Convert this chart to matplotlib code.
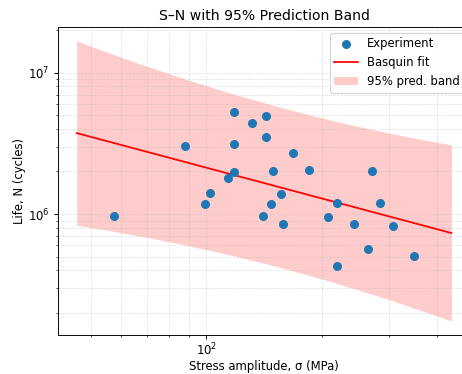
import numpy as np
import matplotlib
matplotlib.use("Agg")
from matplotlib import pyplot as plt

# experiment points
stress = [118, 143, 132, 143, 88, 118, 168, 118, 114, 149, 186, 271,
          57.4, 99, 102, 141, 148, 157, 158.5, 208, 219, 219, 243, 264, 284, 307, 349]
life = [5.29e6, 4.92e6, 4.40e6, 3.53e6, 3.01e6, 3.11e6, 2.70e6, 1.97e6, 1.79e6,
        2.00e6, 2.05e6, 2.01e6, 9.68e5, 1.17e6, 1.40e6, 9.68e5, 1.18e6, 1.38e6,
        8.46e5, 9.53e5, 1.20e6, 4.30e5, 8.54e5, 5.70e5, 1.20e6, 8.23e5, 5.04e5]

T_975 = 2.0595  # t quantile, 25 dof


def basquin_band(s, n):
    x = np.log10(s)
    y = np.log10(n)
    b, a = np.polyfit(x, y, 1)
    resid = y - (a + b * x)
    dof = len(x) - 2
    sd = np.sqrt(np.sum(resid ** 2) / dof)
    sxx = np.sum((x - x.mean()) ** 2)

    grid = np.logspace(np.log10(0.8 * s.min()), np.log10(1.25 * s.max()), 200)
    xg = np.log10(grid)
    yg = a + b * xg
    half = T_975 * sd * np.sqrt(1 + 1 / len(x) + (xg - x.mean()) ** 2 / sxx)
    return grid, 10 ** yg, 10 ** (yg - half), 10 ** (yg + half)


s = np.array(stress)
n = np.array(life)
grid, fit, lo, hi = basquin_band(s, n)

fig = plt.figure(figsize=(5.5, 4.4524), dpi=84)
ax = fig.add_axes([0.1255, 0.104, 0.892, 0.824])

ax.scatter(s, n, color="C0", s=45, label="Experiment", zorder=3)
ax.plot(grid, fit, color="red", lw=1.5, label="Basquin fit", zorder=2)
ax.fill_between(grid, lo, hi, color="red", alpha=0.2, lw=0, label="95% pred. band")

ax.set_xscale("log")
ax.set_yscale("log")
ax.grid(True, which="both", ls="--", lw=0.6, alpha=0.4)
ax.tick_params(axis="x", which="both", pad=2.5)
ax.set_xlabel("Stress amplitude, σ (MPa)", labelpad=1.5)
ax.set_ylabel("Life, N (cycles)", labelpad=2)
ax.set_title("S–N with 95% Prediction Band")
ax.legend(loc="upper right")

fig.savefig("out.png", dpi=84)
